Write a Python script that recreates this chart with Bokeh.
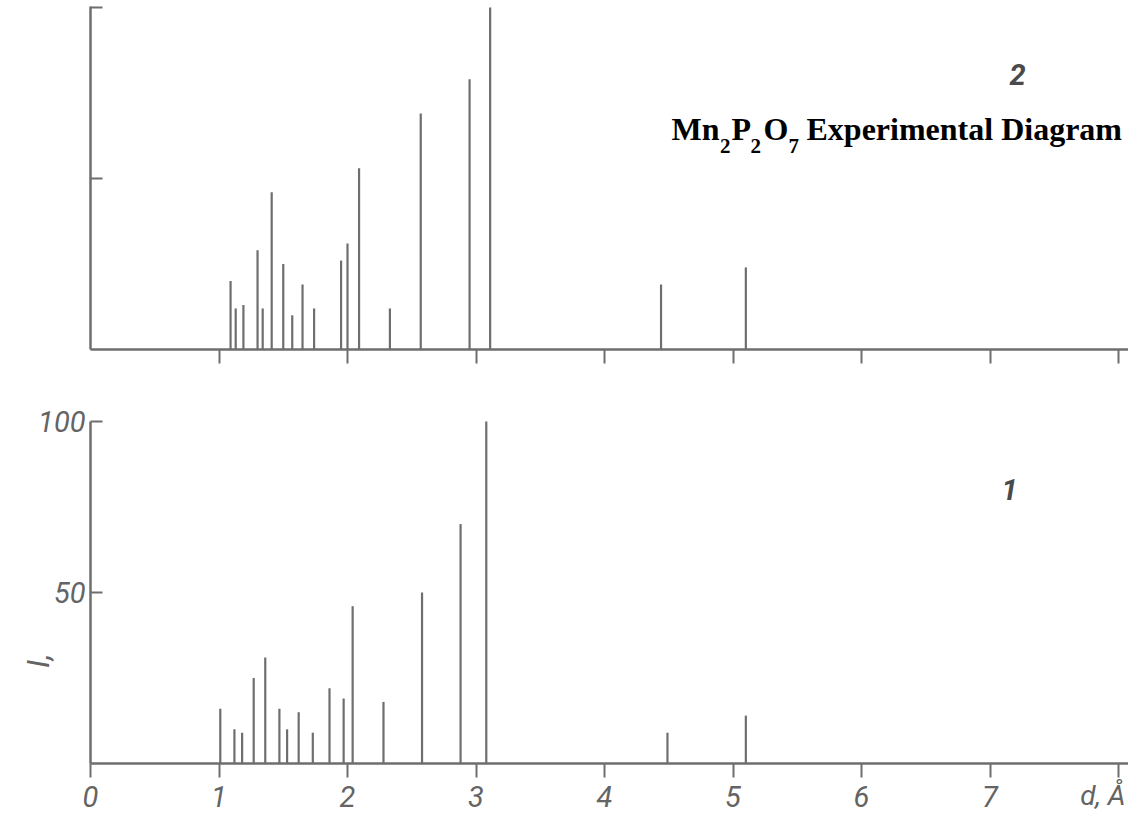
from bokeh.plotting import figure
from bokeh.layouts import column
from bokeh.models import ColumnDataSource, FixedTicker, Label, Range1d
from bokeh.embed import file_html
from bokeh.resources import INLINE

# ---- data ----
# curve 2 (upper panel): Mn2P2O7 experimental diagram
d_top = [1.09, 1.13, 1.19, 1.30, 1.34, 1.41, 1.50, 1.57, 1.65, 1.74,
         1.95, 2.00, 2.09, 2.33, 2.57, 2.95, 3.11, 4.44, 5.10]
I_top = [20, 12, 13, 29, 12, 46, 25, 10, 19, 12,
         26, 31, 53, 12, 69, 79, 100, 19, 24]
# curve 1 (lower panel)
d_bot = [1.01, 1.12, 1.18, 1.27, 1.36, 1.47, 1.53, 1.62, 1.73, 1.86,
         1.97, 2.04, 2.28, 2.58, 2.88, 3.08, 4.49, 5.10]
I_bot = [16, 10, 9, 25, 31, 16, 10, 15, 9, 22,
         19, 46, 18, 50, 70, 100, 9, 14]

x_ticks_top = [1, 2, 3, 4, 5, 6, 7, 8]
x_ticks_bot = [0, 1, 2, 3, 4, 5, 6, 7, 8]
y_ticks = [50, 100]
x_label = "d, Å"
y_label = "I,"
title_main = ["Mn", "P", "O"]
title_subs = ["2", "2", "7"]
title_rest = "Experimental Diagram"
curve_top_name = "2"
curve_bot_name = "1"

GRAY = "#6e6e6e"
TXT = "#646464"
HAND = "Roboto"

W = 1128
PX_PER_D = 128.5      # pixels per Angstrom
PX_PER_I = 3.42       # pixels per intensity unit
X0 = 90               # pixel position of d = 0
X_START = -X0 / PX_PER_D
X_END = (W - X0) / PX_PER_D


def px_to_d(px):
    return (px - X0) / PX_PER_D


def style(p):
    p.outline_line_color = None
    p.grid.visible = False
    p.background_fill_color = "white"
    p.border_fill_color = "white"
    for ax in (p.xaxis[0], p.yaxis[0]):
        ax.axis_line_color = GRAY
        ax.axis_line_width = 2.5
        ax.major_tick_line_color = GRAY
        ax.major_tick_line_width = 2
        ax.minor_tick_line_color = None
        ax.fixed_location = 0


# ---- upper panel ----
H1 = 395
BASE1 = 349           # pixel row of I = 0
p1 = figure(width=W, height=H1,
            x_range=Range1d(X_START, X_END),
            y_range=Range1d((BASE1 - H1) / PX_PER_I, BASE1 / PX_PER_I),
            output_backend="svg", toolbar_location=None,
            min_border_left=0, min_border_right=0, min_border_top=0, min_border_bottom=0)
style(p1)
p1.xaxis.ticker = FixedTicker(ticks=x_ticks_top)
p1.xaxis.bounds = (0, 8.3)
p1.xaxis.major_tick_out = 14
p1.xaxis.major_tick_in = 0
p1.xaxis.major_label_text_color = None
p1.yaxis.ticker = FixedTicker(ticks=y_ticks)
p1.yaxis.bounds = (0, 100.4)
p1.yaxis.major_tick_in = 12
p1.yaxis.major_tick_out = 0
p1.yaxis.major_label_text_color = None

src1 = ColumnDataSource(dict(d=d_top, I=I_top, z=[0] * len(d_top)))
p1.segment(x0="d", y0="z", x1="d", y1="I", source=src1, line_color=GRAY, line_width=2.2)

p1.add_layout(Label(x=px_to_d(1017), y=80.5, text=curve_top_name, text_font=HAND,
                    text_font_style="bold italic", text_font_size="29px", text_color="#4a4a4a",
                    text_align="center", text_baseline="middle"))

# title: formula with subscripts, then the words
main_x = [671, 731, 763]
sub_x = [719.5, 750, 788]
for t, xp in zip(title_main, main_x):
    p1.add_layout(Label(x=px_to_d(xp), y=64.4, text=t, text_font="Liberation Serif",
                        text_font_style="bold", text_font_size="32px", text_color="black",
                        text_align="left", text_baseline="alphabetic"))
for t, xp in zip(title_subs, sub_x):
    p1.add_layout(Label(x=px_to_d(xp), y=59.6, text=t, text_font="Liberation Serif",
                        text_font_style="bold", text_font_size="21px", text_color="black",
                        text_align="left", text_baseline="alphabetic"))
p1.add_layout(Label(x=px_to_d(806), y=64.4, text=title_rest, text_font="Liberation Serif",
                    text_font_style="bold", text_font_size="32px", text_color="black",
                    text_align="left", text_baseline="alphabetic"))

# ---- lower panel ----
H2 = 419
BASE2 = 763 - H1      # pixel row of I = 0 inside the lower canvas
p2 = figure(width=W, height=H2,
            x_range=Range1d(X_START, X_END),
            y_range=Range1d((BASE2 - H2) / PX_PER_I, BASE2 / PX_PER_I),
            output_backend="svg", toolbar_location=None,
            min_border_left=0, min_border_right=0, min_border_top=0, min_border_bottom=0)
style(p2)
p2.xaxis.ticker = FixedTicker(ticks=x_ticks_bot)
p2.xaxis.bounds = (0, 8.3)
p2.xaxis.major_label_overrides = {8: ""}
p2.xaxis.major_tick_out = 14
p2.xaxis.major_tick_in = 0
p2.xaxis.major_label_standoff = 8
p2.xaxis.major_label_text_font = HAND
p2.xaxis.major_label_text_font_style = "italic"
p2.xaxis.major_label_text_font_size = "29px"
p2.xaxis.major_label_text_color = TXT
p2.yaxis.ticker = FixedTicker(ticks=y_ticks)
p2.yaxis.bounds = (0, 100)
p2.yaxis.major_tick_in = 12
p2.yaxis.major_tick_out = 0
p2.yaxis.major_label_standoff = 5
p2.yaxis.major_label_text_font = HAND
p2.yaxis.major_label_text_font_style = "italic"
p2.yaxis.major_label_text_font_size = "29px"
p2.yaxis.major_label_text_color = TXT

src2 = ColumnDataSource(dict(d=d_bot, I=I_bot, z=[0] * len(d_bot)))
p2.segment(x0="d", y0="z", x1="d", y1="I", source=src2, line_color=GRAY, line_width=2.2)

p2.add_layout(Label(x=px_to_d(1009), y=80, text=curve_bot_name, text_font=HAND,
                    text_font_style="bold italic", text_font_size="29px", text_color="#4a4a4a",
                    text_align="center", text_baseline="middle"))
p2.add_layout(Label(x=px_to_d(1125), y=-9.4, text=x_label, text_font=HAND,
                    text_font_style="italic", text_font_size="28px", text_color=TXT,
                    text_align="right", text_baseline="middle"))
p2.add_layout(Label(x=px_to_d(38), y=30, text=y_label, text_font=HAND,
                    text_font_style="italic", text_font_size="31px", text_color=TXT,
                    text_align="center", text_baseline="middle", angle=1.5708))

layout = column(p1, p2, spacing=0)
open("out.html", "w").write(file_html(layout, INLINE))
